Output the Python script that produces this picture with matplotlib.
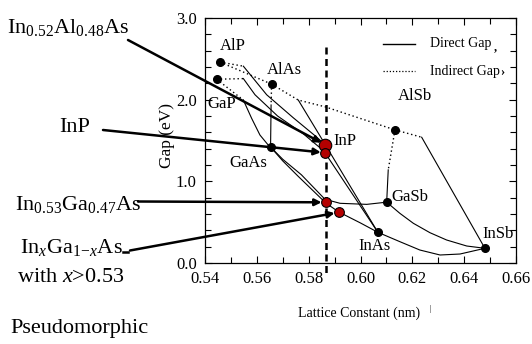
import matplotlib
matplotlib.use("Agg")
import matplotlib.pyplot as plt
from matplotlib.lines import Line2D
from matplotlib.ticker import MultipleLocator

plt.rcParams['font.family'] = ['Liberation Serif', 'DejaVu Serif']
plt.rcParams['mathtext.fontset'] = 'custom'
plt.rcParams['mathtext.rm'] = 'Liberation Serif'
plt.rcParams['mathtext.it'] = 'Liberation Serif:italic'

# ---------------- data ----------------
binaries = ['AlP', 'GaP', 'AlAs', 'AlSb', 'GaAs', 'GaSb', 'InAs', 'InSb']
bin_a = [0.5458, 0.5445, 0.5657, 0.6133, 0.5653, 0.6101, 0.6067, 0.6480]
bin_eg = [2.46, 2.25, 2.19, 1.63, 1.42, 0.745, 0.376, 0.18]

label_a = [0.5508, 0.5466, 0.5705, 0.6210, 0.5566, 0.6191, 0.6056, 0.6530, 0.5940]
label_eg = [2.656, 1.946, 2.362, 2.044, 1.224, 0.808, 0.208, 0.355, 1.493]
label_txt = ['AlP', 'GaP', 'AlAs', 'AlSb', 'GaAs', 'GaSb', 'InAs', 'InSb', 'InP']

# indirect-gap (dotted) branches
ind_alp_alas_a = [0.5458, 0.5657]
ind_alp_alas_e = [2.46, 2.19]
ind_alp_k_a = [0.5458, 0.5548]
ind_alp_k_e = [2.46, 2.41]
ind_gap_k_a = [0.5445, 0.5548]
ind_gap_k_e = [2.25, 2.258]
ind_gap_gaas_a = [0.5445, 0.5548]
ind_gap_gaas_e = [2.25, 1.995]
ind_alas_alsb_a = [0.5657, 0.5760, 0.5863, 0.6133]
ind_alas_alsb_e = [2.19, 1.995, 1.913, 1.63]
ind_alas_gaas_a = [0.5657, 0.5655]
ind_alas_gaas_e = [2.19, 1.935]
ind_alsb_gasb_a = [0.6133, 0.6107]
ind_alsb_gasb_e = [1.63, 1.14]
ind_alsb_insb_a = [0.6133, 0.6236]
ind_alsb_insb_e = [1.63, 1.54]

# direct-gap (solid) branches
dir_alinp_a = [0.5548, 0.5638, 0.5740, 0.5824, 0.5863]
dir_alinp_e = [2.41, 2.06, 1.78, 1.56, 1.45]
dir_gainp_a = [0.5548, 0.5593, 0.5680, 0.5780, 0.5863]
dir_gainp_e = [2.258, 2.06, 1.80, 1.58, 1.36]
dir_gaasp_a = [0.5548, 0.5580, 0.5612, 0.5644, 0.5653]
dir_gaasp_e = [1.995, 1.771, 1.567, 1.444, 1.42]
dir_algaas_a = [0.5655, 0.5653]
dir_algaas_e = [1.935, 1.42]
dir_alinas_a = [0.5760, 0.5863, 0.6067]
dir_alinas_e = [1.995, 1.455, 0.376]
dir_inasp_a = [0.5863, 0.6067]
dir_inasp_e = [1.35, 0.376]
dir_ingaas_a = [0.5653, 0.5700, 0.5760, 0.5866, 0.5916, 0.6000, 0.6067]
dir_ingaas_e = [1.42, 1.25, 1.06, 0.735, 0.625, 0.49, 0.376]
dir_gaassb_a = [0.5653, 0.5700, 0.5772, 0.5863, 0.5921, 0.6024, 0.6101]
dir_gaassb_e = [1.42, 1.27, 1.08, 0.78, 0.731, 0.718, 0.745]
dir_algasb_a = [0.6107, 0.6101]
dir_algasb_e = [1.14, 0.745]
dir_alinsb_a = [0.6236, 0.6480]
dir_alinsb_e = [1.54, 0.18]
dir_gainsb_a = [0.6101, 0.6152, 0.6204, 0.6268, 0.6332, 0.6410, 0.6480]
dir_gainsb_e = [0.745, 0.608, 0.486, 0.371, 0.282, 0.208, 0.18]
dir_inassb_a = [0.6067, 0.6152, 0.6229, 0.6307, 0.6384, 0.6480]
dir_inassb_e = [0.376, 0.261, 0.159, 0.098, 0.110, 0.18]

# lattice-matched / highlighted (red) points
red_names = ['In0.52Al0.48As', 'InP', 'In0.53Ga0.47As', 'InxGa1-xAs']
red_a = [0.5863, 0.5863, 0.5866, 0.5916]
red_eg = [1.45, 1.35, 0.743, 0.62]
red_size = [9, 7, 7, 7]

inp_lattice = 0.5865
dash_top, dash_bottom = 2.64, -0.16

xticks = [0.54, 0.56, 0.58, 0.60, 0.62, 0.64, 0.66]
yticks = [0.0, 1.0, 2.0, 3.0]

# ---------------- figure ----------------
W, H = 532, 344
fig = plt.figure(figsize=(W / 100, H / 100), dpi=100)
ax = fig.add_axes([205 / W, 1 - 263 / H, 311 / W, 245 / H])
ax.set_xlim(0.54, 0.66)
ax.set_ylim(0.0, 3.0)

dot_style = dict(color='black', lw=1.0, linestyle=(0, (1, 2)))
sol_style = dict(color='black', lw=0.8)

for xa, ye in [(ind_alp_alas_a, ind_alp_alas_e), (ind_alp_k_a, ind_alp_k_e),
               (ind_gap_k_a, ind_gap_k_e), (ind_gap_gaas_a, ind_gap_gaas_e),
               (ind_alas_alsb_a, ind_alas_alsb_e), (ind_alas_gaas_a, ind_alas_gaas_e),
               (ind_alsb_gasb_a, ind_alsb_gasb_e), (ind_alsb_insb_a, ind_alsb_insb_e)]:
    ax.plot(xa, ye, **dot_style)

for xa, ye in [(dir_alinp_a, dir_alinp_e), (dir_gainp_a, dir_gainp_e),
               (dir_gaasp_a, dir_gaasp_e), (dir_algaas_a, dir_algaas_e),
               (dir_alinas_a, dir_alinas_e), (dir_inasp_a, dir_inasp_e),
               (dir_ingaas_a, dir_ingaas_e), (dir_gaassb_a, dir_gaassb_e),
               (dir_algasb_a, dir_algasb_e), (dir_alinsb_a, dir_alinsb_e),
               (dir_gainsb_a, dir_gainsb_e), (dir_inassb_a, dir_inassb_e)]:
    ax.plot(xa, ye, **sol_style)

ax.plot(bin_a, bin_eg, 'o', color='black', ms=5.5, zorder=4)

ax.plot([inp_lattice, inp_lattice], [dash_top, dash_bottom], color='black',
        lw=1.8, linestyle=(0, (2.8, 1.8)), clip_on=False, zorder=5)

for xa, ye, s in zip(red_a, red_eg, red_size):
    ax.plot([xa], [ye], 'o', color='#b40000', mec='black', mew=0.8, ms=s, zorder=6)

for t, xa, ye in zip(label_txt, label_a, label_eg):
    ax.text(xa, ye, t, ha='center', va='center', fontsize=12, zorder=7)

# axes styling
ax.set_xticks(xticks)
ax.set_xticklabels(['%.2f' % v for v in xticks])
ax.set_yticks(yticks)
ax.set_yticklabels(['%.1f' % v for v in yticks])
ax.xaxis.set_minor_locator(MultipleLocator(0.01))
ax.yaxis.set_minor_locator(MultipleLocator(0.2))
ax.tick_params(which='both', direction='in', top=True, right=True, labelsize=12,
               width=0.8)
ax.tick_params(which='major', length=5, pad=6)
ax.tick_params(which='minor', length=4)
for sp in ax.spines.values():
    sp.set_linewidth(0.9)

fig.text(167 / W, 1 - 135 / H, 'Gap (eV)', rotation=90, ha='center', va='center',
         fontsize=12.5)
fig.text(359 / W, 1 - 313 / H, 'Lattice Constant (nm)', ha='center', va='center',
         fontsize=10)

# legend (drawn manually)
def axf(px, py):
    return (px - 205) / 311, (263 - py) / 245

x0, y0 = axf(383, 44)
x1, _ = axf(415, 44)
ax.add_line(Line2D([x0, x1], [y0, y0], transform=ax.transAxes, color='black', lw=1.0))
tx, _ = axf(430, 44)
ax.text(tx, y0, 'Direct Gap', transform=ax.transAxes, ha='left', va='center', fontsize=10)
_, y2 = axf(383, 71)
ax.add_line(Line2D([x0, x1], [y2, y2], transform=ax.transAxes, color='black', lw=0.9,
                   linestyle=(0, (1, 1.5))))
ax.text(tx, y2, 'Indirect Gap', transform=ax.transAxes, ha='left', va='center', fontsize=10)
fig.text(495 / W, 1 - 47 / H, ',', ha='center', va='center', fontsize=9, fontweight='bold')
fig.text(502 / W, 1 - 72 / H, '\u203a', ha='center', va='center', fontsize=9, fontweight='bold')
fig.text(430 / W, 1 - 309 / H, '|', ha='center', va='center', fontsize=6)

# left annotations
fig.text(68 / W, 1 - 27 / H, r'In$_{0.52}$Al$_{0.48}$As', ha='center', va='center', fontsize=16)
fig.text(75 / W, 1 - 128 / H, 'InP', ha='center', va='center', fontsize=16)
fig.text(78 / W, 1 - 204 / H, r'In$_{0.53}$Ga$_{0.47}$As', ha='center', va='center', fontsize=16)
fig.text(71 / W, 1 - 248 / H, r'In$_{x}$Ga$_{1\!-\!x}$As', ha='center', va='center', fontsize=16)
fig.text(71 / W, 1 - 277 / H, r'with $x$>0.53', ha='center', va='center', fontsize=16)
fig.text(79 / W, 1 - 329 / H, 'Pseudomorphic', ha='center', va='center', fontsize=16)

arrow = dict(arrowstyle='-|>', lw=1.8, color='black', mutation_scale=10, shrinkA=0, shrinkB=3)
tails = [(128, 304), (103, 214), (138, 142.5), (130, 93.5)]
for (xa, ye), (tpx, tpy) in zip(zip(red_a, red_eg), tails):
    ax.annotate('', xy=(xa, ye), xycoords='data', xytext=(tpx, tpy),
                textcoords='figure pixels', arrowprops=arrow, annotation_clip=False,
                zorder=8)
fig.add_artist(Line2D([122.5 / W, 127.5 / W], [1 - 251.7 / H, 1 - 251.7 / H],
                      color='black', lw=1.8))

fig.savefig('out.png', dpi=100)
